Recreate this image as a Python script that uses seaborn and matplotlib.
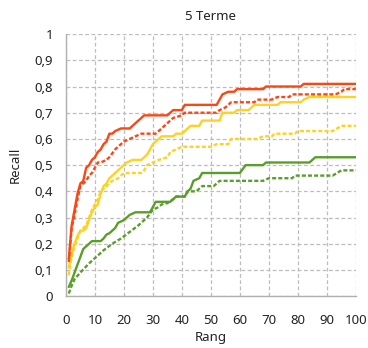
import matplotlib
matplotlib.use("Agg")
import matplotlib.pyplot as plt
import seaborn as sns
import pandas as pd
from matplotlib.ticker import FuncFormatter

# ---- data (rank, recall breakpoints) ----
red_solid_rank = [1, 2, 3, 4, 5, 6, 7, 8, 9, 10, 11, 12, 13, 14, 15, 16, 17, 19, 22, 23, 25, 27, 35, 36, 37, 40, 41, 52, 53, 54, 56, 58, 59, 68, 69, 81, 82, 100]
red_solid_val = [0.14, 0.27, 0.33, 0.39, 0.43, 0.44, 0.49, 0.50, 0.52, 0.53, 0.55, 0.56, 0.58, 0.59, 0.62, 0.62, 0.63, 0.64, 0.64, 0.65, 0.67, 0.69, 0.69, 0.70, 0.71, 0.71, 0.73, 0.73, 0.75, 0.77, 0.78, 0.78, 0.79, 0.79, 0.80, 0.80, 0.81, 0.81]

red_dot_rank = [1, 2, 3, 4, 5, 6, 7, 8, 9, 10, 11, 12, 14, 15, 17, 18, 20, 22, 24, 26, 31, 33, 35, 37, 40, 41, 52, 53, 55, 57, 65, 66, 71, 73, 77, 78, 93, 95, 96, 100]
red_dot_val = [0.13, 0.26, 0.31, 0.37, 0.42, 0.43, 0.44, 0.46, 0.47, 0.49, 0.51, 0.51, 0.52, 0.53, 0.56, 0.57, 0.59, 0.60, 0.61, 0.62, 0.62, 0.64, 0.66, 0.68, 0.69, 0.70, 0.70, 0.71, 0.72, 0.74, 0.74, 0.75, 0.75, 0.76, 0.76, 0.77, 0.77, 0.78, 0.79, 0.79]

yel_solid_rank = [1, 2, 3, 4, 5, 6, 7, 8, 9, 10, 11, 12, 13, 14, 15, 16, 17, 18, 19, 20, 21, 23, 26, 27, 28, 29, 30, 31, 32, 33, 37, 38, 40, 41, 43, 46, 47, 53, 54, 58, 59, 63, 64, 65, 73, 74, 81, 82, 84, 100]
yel_solid_val = [0.11, 0.16, 0.20, 0.23, 0.25, 0.25, 0.26, 0.29, 0.32, 0.34, 0.35, 0.39, 0.42, 0.43, 0.45, 0.46, 0.47, 0.48, 0.49, 0.50, 0.51, 0.52, 0.52, 0.53, 0.54, 0.56, 0.58, 0.59, 0.60, 0.61, 0.61, 0.62, 0.62, 0.63, 0.65, 0.65, 0.67, 0.67, 0.70, 0.70, 0.71, 0.71, 0.72, 0.73, 0.73, 0.74, 0.74, 0.75, 0.76, 0.76]

yel_dot_rank = [1, 2, 3, 4, 5, 6, 7, 8, 9, 10, 11, 12, 13, 14, 15, 16, 18, 20, 26, 27, 28, 30, 32, 35, 36, 38, 40, 50, 52, 56, 57, 66, 68, 71, 72, 79, 80, 92, 95, 100]
yel_dot_val = [0.08, 0.15, 0.19, 0.22, 0.25, 0.26, 0.27, 0.30, 0.33, 0.35, 0.37, 0.40, 0.41, 0.42, 0.43, 0.44, 0.45, 0.47, 0.47, 0.48, 0.50, 0.51, 0.52, 0.53, 0.55, 0.56, 0.57, 0.57, 0.58, 0.58, 0.60, 0.60, 0.61, 0.61, 0.62, 0.62, 0.63, 0.63, 0.65, 0.65]

grn_solid_rank = [1, 2, 3, 4, 5, 6, 7, 8, 9, 12, 13, 14, 15, 16, 17, 18, 20, 21, 22, 24, 29, 30, 31, 36, 37, 38, 41, 42, 43, 44, 46, 47, 60, 62, 68, 69, 84, 86, 100]
grn_solid_val = [0.035, 0.06, 0.09, 0.12, 0.15, 0.18, 0.19, 0.20, 0.21, 0.21, 0.22, 0.235, 0.24, 0.25, 0.26, 0.28, 0.29, 0.30, 0.31, 0.32, 0.32, 0.34, 0.36, 0.36, 0.37, 0.38, 0.38, 0.40, 0.41, 0.44, 0.45, 0.47, 0.47, 0.50, 0.50, 0.51, 0.51, 0.53, 0.53]

grn_dot_rank = [1, 2, 3, 5, 8, 10, 13, 16, 19, 22, 25, 28, 30, 32, 33, 35, 37, 38, 41, 42, 45, 46, 47, 51, 52, 53, 68, 70, 78, 79, 92, 95, 100]
grn_dot_val = [0.01, 0.04, 0.065, 0.09, 0.125, 0.145, 0.175, 0.20, 0.22, 0.245, 0.27, 0.30, 0.33, 0.34, 0.35, 0.355, 0.37, 0.38, 0.38, 0.40, 0.40, 0.41, 0.42, 0.42, 0.43, 0.44, 0.44, 0.45, 0.45, 0.46, 0.46, 0.48, 0.48]

x_ticks = [0, 10, 20, 30, 40, 50, 60, 70, 80, 90, 100]
y_ticks = [0, 0.1, 0.2, 0.3, 0.4, 0.5, 0.6, 0.7, 0.8, 0.9, 1.0]

RED = "#FF4512"
YEL = "#FFD21F"
GRN = "#5A9E2A"

sns.set_style("white")
plt.rcParams["font.family"] = ["Noto Sans", "DejaVu Sans"]

fig = plt.figure(figsize=(3.68, 3.48), dpi=100)
ax = fig.add_axes([0.179, 0.149, 0.788, 0.753])

dot = (0, (1.7, 0.9))
series = [
    (grn_dot_rank, grn_dot_val, GRN, dot),
    (grn_solid_rank, grn_solid_val, GRN, "-"),
    (yel_dot_rank, yel_dot_val, YEL, dot),
    (yel_solid_rank, yel_solid_val, YEL, "-"),
    (red_dot_rank, red_dot_val, RED, dot),
    (red_solid_rank, red_solid_val, RED, "-"),
]
for xr, yv, c, ls in series:
    df = pd.DataFrame({"Rang": xr, "Recall": yv})
    sns.lineplot(data=df, x="Rang", y="Recall", ax=ax, color=c,
                 linestyle=ls, linewidth=1.7, estimator=None, sort=False)

ax.set_xlim(0, 100)
ax.set_ylim(0, 1)
ax.set_xticks(x_ticks)
ax.set_yticks(y_ticks)
ax.yaxis.set_major_formatter(FuncFormatter(lambda v, p: ("%g" % round(v, 1)).replace(".", ",")))
ax.grid(True, color="#BDBDBD", linestyle=(0, (3, 2)), linewidth=0.9)
ax.set_axisbelow(True)
for s in ["top", "right"]:
    ax.spines[s].set_visible(False)
for s in ["left", "bottom"]:
    ax.spines[s].set_color("#B0B0B0")
    ax.spines[s].set_linewidth(1.0)
ax.tick_params(axis="both", which="both", direction="out", length=6,
               color="#B0B0B0", width=0.9, labelsize=9.5, labelcolor="#222222")
ax.tick_params(axis="x", pad=7)
ax.tick_params(axis="y", pad=3)

ax.set_title("5 Terme", fontsize=9.5, color="#222222", pad=10)
ax.set_xlabel("Rang", fontsize=9.5, fontweight="bold", color="#222222", labelpad=3)
ax.set_ylabel("Recall", fontsize=9.5, fontweight="bold", color="#222222", labelpad=9)

fig.savefig("out.png", dpi=100)
